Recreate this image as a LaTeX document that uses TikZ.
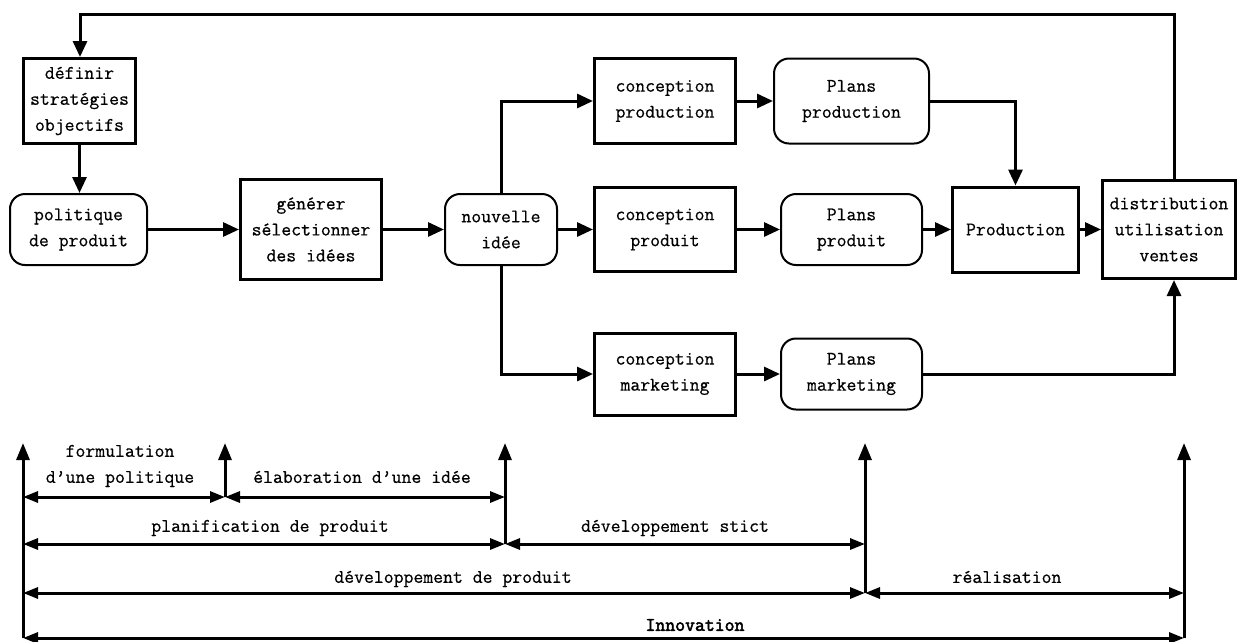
\documentclass[tikz,border=0pt]{standalone}
\usepackage{fontspec}
\newfontfamily\diagfont[RawFeature={embolden=0.6}]{Latin Modern Mono}
\newfontfamily\heavyfont[RawFeature={embolden=2.6}]{Latin Modern Mono}
\usetikzlibrary{arrows.meta,calc}

\begin{document}
\begin{tikzpicture}[x=1pt,y=-1pt,
  every node/.style={font=\diagfont\fontsize{19.2}{26}\selectfont, align=center, inner sep=0pt},
  sqbox/.style 2 args={draw, line width=3pt, minimum width=#1, minimum height=#2},
  rdbox/.style 2 args={draw, line width=2pt, rounded corners=15pt, minimum width=#1, minimum height=#2},
  conn/.style={line width=3pt, -{Triangle[length=16pt,width=14pt]}},
  tick/.style={line width=3pt, -{Triangle[length=17pt,width=13pt]}},
  span/.style={line width=3pt, {Triangle[length=15pt,width=11pt]}-{Triangle[length=15pt,width=11pt]}}]

\useasboundingbox (0,0) rectangle (1237,641);

% ---- process chain ----
\node[sqbox={112pt}{85pt}] (def) at (79.5,101) {définir\\stratégies\\objectifs};
\node[rdbox={137pt}{71pt}] (pol) at (78.5,229.5) {politique\\de produit};
\node[sqbox={141pt}{100pt}] (gen) at (311,229.5) {générer\\sélectionner\\des idées};
\node[rdbox={112pt}{71pt}] (idee) at (501,229.5) {nouvelle\\idée};

\node[sqbox={141pt}{85pt}] (cprod) at (665,101) {conception\\production};
\node[sqbox={141pt}{84pt}] (cpdt) at (665,229.5) {conception\\produit};
\node[sqbox={141pt}{82pt}] (cmkt) at (665,374) {conception\\marketing};

\node[rdbox={155pt}{85pt}] (pprod) at (851.5,101) {Plans\\production};
\node[rdbox={141pt}{71pt}] (ppdt) at (851.5,229.5) {Plans\\produit};
\node[rdbox={141pt}{71pt}] (pmkt) at (851.5,374) {Plans\\marketing};

\node[sqbox={126pt}{85pt}] (prodn) at (1015.5,229.5) {Production};
\node[sqbox={133pt}{98pt}] (dist) at (1169,229.5) {distribution\\utilisation\\ventes};

% feedback loop along the top
\coordinate (tr) at (1174,14);
\coordinate (tl) at (80,14);
\draw[conn] (dist.north -| tr) -- (tr) -- (tl) -- (def.north -| tl);

\draw[conn] (def.south) -- (def.south |- pol.north);
\draw[conn] (pol.east) -- (gen.west);
\draw[conn] (gen.east) -- (idee.west);

\draw[conn] (idee.north) |- (cprod.west);
\draw[conn] (idee.east) -- (cpdt.west);
\draw[conn] (idee.south) |- (cmkt.west);

\draw[conn] (cprod.east) -- (pprod.west);
\draw[conn] (cpdt.east) -- (ppdt.west);
\draw[conn] (cmkt.east) -- (pmkt.west);

\draw[conn] (pprod.east) -| (prodn.north);
\draw[conn] (ppdt.east) -- (prodn.west);
\draw[conn] (prodn.east) -- (dist.west);
\draw[conn] (pmkt.east) -| (dist.south -| tr);

% ---- phase timeline ----
\coordinate (v1) at (23,443);   \coordinate (b1) at (23,638);
\coordinate (v2) at (225,443);  \coordinate (b2) at (225,497);
\coordinate (v3) at (505,443);  \coordinate (b3) at (505,544);
\coordinate (v4) at (865,443);  \coordinate (b4) at (865,593);
\coordinate (v5) at (1184,443); \coordinate (b5) at (1184,638);

\coordinate (r1) at (0,497);
\coordinate (r2) at (0,544);
\coordinate (r3) at (0,593);
\coordinate (r4) at (0,638);

\draw[tick] (b1) -- (v1);
\draw[tick] (b2) -- (v2);
\draw[tick] (b3) -- (v3);
\draw[tick] (b4) -- (v4);
\draw[tick] (b5) -- (v5);

\draw[span] (v1 |- r1) -- (v2 |- r1);
\draw[span] (v2 |- r1) -- (v3 |- r1);
\draw[span] (v1 |- r2) -- (v3 |- r2);
\draw[span] (v3 |- r2) -- (v4 |- r2);
\draw[span] (v1 |- r3) -- (v4 |- r3);
\draw[span] (v4 |- r3) -- (v5 |- r3);
\draw[span] (v1 |- r4) -- (v5 |- r4);

\node (lform) at (120,466) {formulation\\d’une politique};
\node (lelab) at (362,477) {élaboration d’une idée};
\node (lplan) at (270,528) {planification de produit};
\node (ldevs) at (675,528) {développement stict};
\node (ldevp) at (453,579) {développement de produit};
\node (lreal) at (1007,577) {réalisation};
\node[font=\heavyfont\fontsize{19.2}{26}\selectfont] (linno) at (695,625) {Innovation};

\end{tikzpicture}
\end{document}
